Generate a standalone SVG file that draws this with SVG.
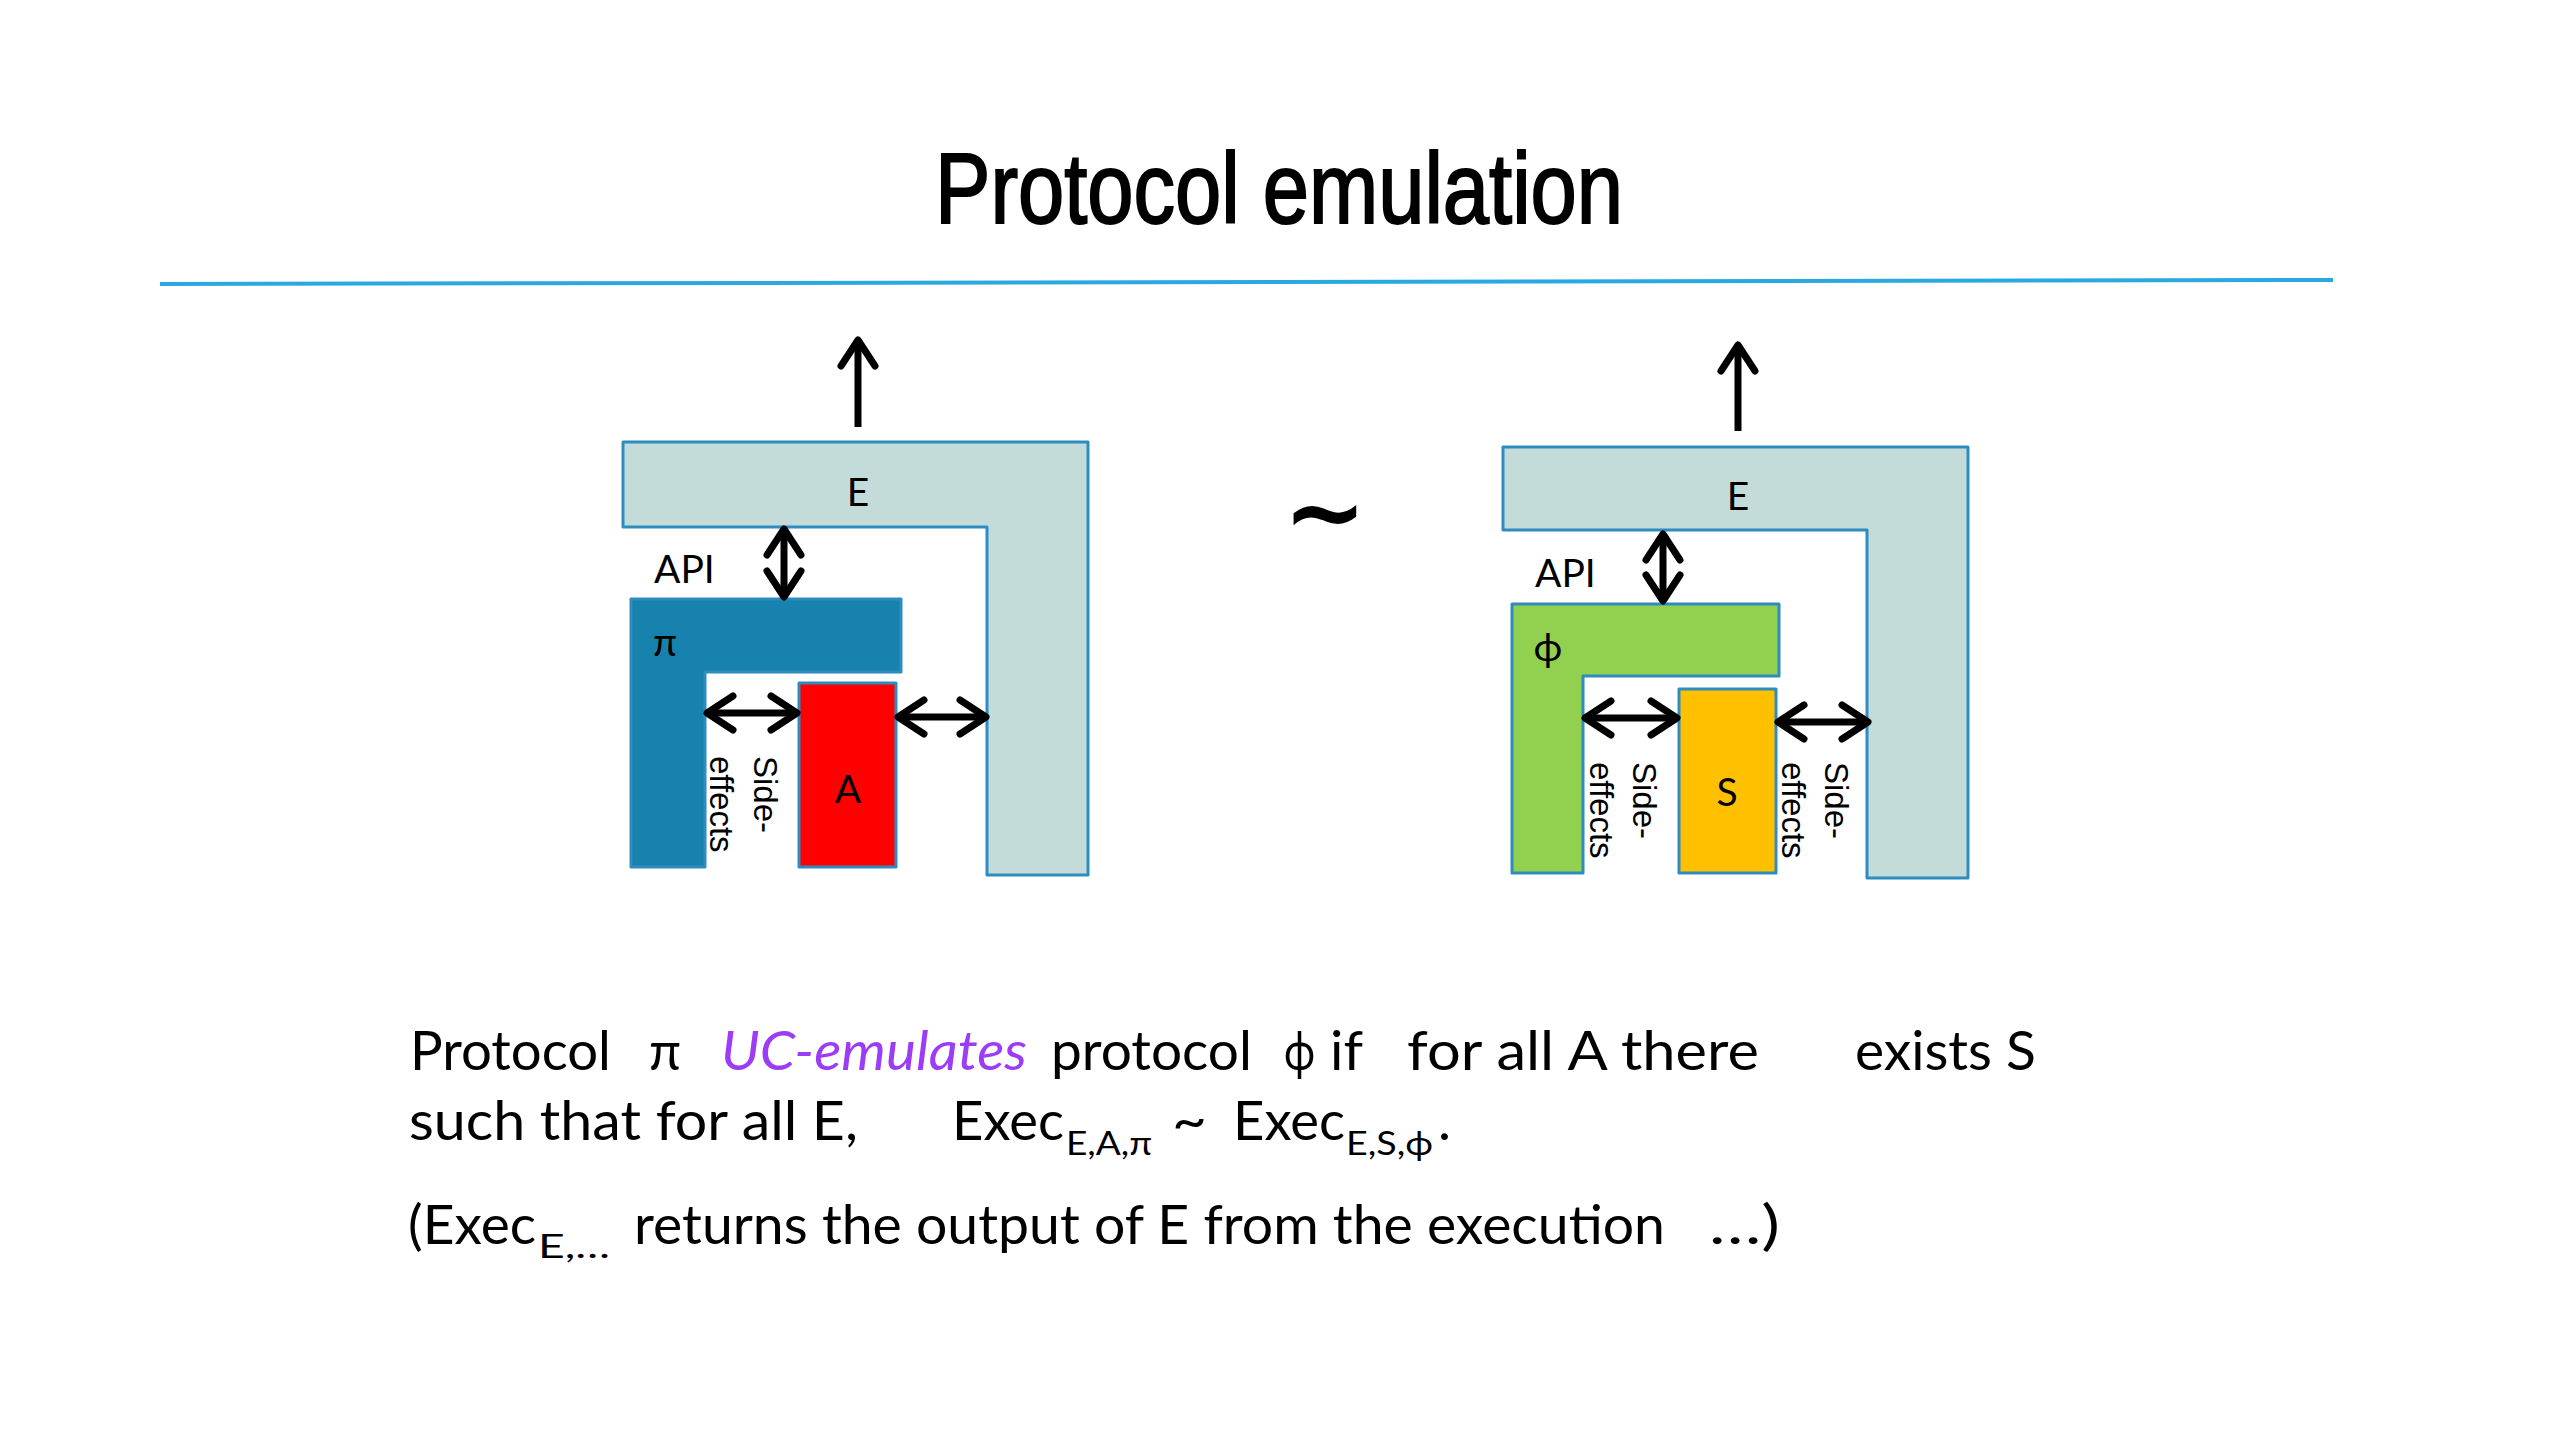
<svg xmlns="http://www.w3.org/2000/svg" width="2560" height="1440" viewBox="0 0 2560 1440">
<defs>
<style>
.title{font-family:"Liberation Sans Narrow","Liberation Sans",sans-serif;font-size:100px;fill:#000;stroke:#000;stroke-width:2}
.body{font-family:Lato,"DejaVu Sans",sans-serif;font-size:55px;fill:#000}
.sub{font-family:Lato,"DejaVu Sans",sans-serif;font-size:32px;fill:#000}
.lbl{font-family:Lato,"DejaVu Sans",sans-serif;font-size:39px;fill:#000}
.side{font-family:"Liberation Sans",Arial,sans-serif;font-size:33px;fill:#000}
.env{fill:#c3dcda;stroke:#2e8cc0;stroke-width:3;stroke-linejoin:round}
.box{stroke:#2e8cc0;stroke-width:3;stroke-linejoin:round}
.conn{fill:none;stroke:#000;stroke-width:7}
</style>
<marker id="ah" viewBox="0 0 40 40" refX="36" refY="20" markerWidth="40" markerHeight="40" markerUnits="userSpaceOnUse" orient="auto-start-reverse" overflow="visible">
<path d="M10,3 L36,20 L10,37" fill="none" stroke="#000" stroke-width="7" stroke-linecap="round" stroke-linejoin="round"/>
</marker>
</defs>
<rect x="0" y="0" width="2560" height="1440" fill="#fff"/>

<text id="title" class="title" x="935" y="223" textLength="688" lengthAdjust="spacingAndGlyphs">Protocol emulation</text>
<line x1="160" y1="284" x2="2333" y2="280" stroke="#2aa8e0" stroke-width="4"/>

<!-- Left diagram -->
<g id="E-left">
<polygon class="env" points="623,442 1088,442 1088,875 987,875 987,527 623,527"/>
<text class="lbl" x="858" y="506" text-anchor="middle">E</text>
</g>
<g id="pi">
<polygon class="box" fill="#1782ad" points="631,599 901,599 901,672 705,672 705,867 631,867"/>
<text class="lbl" x="665" y="656" text-anchor="middle" font-size="44">π</text>
</g>
<g id="A">
<rect class="box" x="799" y="683" width="97" height="184" fill="#ff0000"/>
<text class="lbl" x="848" y="803" text-anchor="middle">A</text>
</g>
<text id="api-left" class="lbl" x="654" y="583">API</text>
<g id="side-left-1">
<text class="side" transform="translate(754,756) rotate(90)">Side-</text>
<text class="side" transform="translate(710,756) rotate(90)">effects</text>
</g>

<!-- tilde -->
<text id="tilde" x="1325" y="546" text-anchor="middle" font-family="DejaVu Sans,sans-serif" font-weight="bold" font-size="100">~</text>

<!-- Right diagram -->
<g id="E-right">
<polygon class="env" points="1503,447 1968,447 1968,878 1867,878 1867,530 1503,530"/>
<text class="lbl" x="1738" y="510" text-anchor="middle">E</text>
</g>
<g id="phi">
<polygon class="box" fill="#92d050" points="1512,604 1779,604 1779,676 1583,676 1583,873 1512,873"/>
<text class="lbl" x="1548" y="661" text-anchor="middle" font-size="46">ϕ</text>
</g>
<g id="S">
<rect class="box" x="1679" y="689" width="97" height="184" fill="#ffc000"/>
<text class="lbl" x="1727" y="806" text-anchor="middle">S</text>
</g>
<text id="api-right" class="lbl" x="1535" y="587">API</text>
<g id="side-right-1">
<text class="side" transform="translate(1633,762) rotate(90)">Side-</text>
<text class="side" transform="translate(1590,762) rotate(90)">effects</text>
</g>
<g id="side-right-2">
<text class="side" transform="translate(1825,762) rotate(90)">Side-</text>
<text class="side" transform="translate(1782,762) rotate(90)">effects</text>
</g>

<!-- connectors -->
<g id="connectors">
<line class="conn" x1="858" y1="427" x2="858" y2="340" marker-end="url(#ah)"/>
<line class="conn" x1="784" y1="529" x2="784" y2="597" marker-start="url(#ah)" marker-end="url(#ah)"/>
<line class="conn" x1="707" y1="713" x2="797" y2="713" marker-start="url(#ah)" marker-end="url(#ah)"/>
<line class="conn" x1="898" y1="717" x2="986" y2="717" marker-start="url(#ah)" marker-end="url(#ah)"/>
<line class="conn" x1="1738" y1="431" x2="1738" y2="345" marker-end="url(#ah)"/>
<line class="conn" x1="1663" y1="534" x2="1663" y2="601" marker-start="url(#ah)" marker-end="url(#ah)"/>
<line class="conn" x1="1585" y1="718" x2="1677" y2="718" marker-start="url(#ah)" marker-end="url(#ah)"/>
<line class="conn" x1="1778" y1="722" x2="1868" y2="722" marker-start="url(#ah)" marker-end="url(#ah)"/>
</g>

<!-- bottom text -->
<g id="statement">
<text class="body" x="410" y="1070" textLength="201" lengthAdjust="spacingAndGlyphs">Protocol</text>
<text class="body" x="649" y="1070" textLength="32" lengthAdjust="spacingAndGlyphs">π</text>
<text class="body" x="721" y="1070" textLength="306" lengthAdjust="spacingAndGlyphs" font-style="italic" style="fill:#9c3cf6">UC-emulates</text>
<text class="body" x="1051" y="1070" textLength="201" lengthAdjust="spacingAndGlyphs">protocol</text>
<text class="body" x="1284" y="1070" textLength="31" lengthAdjust="spacingAndGlyphs">ϕ</text>
<text class="body" x="1330" y="1070" textLength="33" lengthAdjust="spacingAndGlyphs">if</text>
<text class="body" x="1407" y="1070" textLength="352" lengthAdjust="spacingAndGlyphs">for all A there</text>
<text class="body" x="1855" y="1070" textLength="181" lengthAdjust="spacingAndGlyphs">exists S</text>

<text class="body" x="409" y="1140" textLength="449" lengthAdjust="spacingAndGlyphs">such that for all E,</text>
<text class="body" x="952" y="1140" textLength="112" lengthAdjust="spacingAndGlyphs">Exec</text>
<text class="sub" x="1066" y="1155" textLength="86" lengthAdjust="spacingAndGlyphs">E,A,π</text>
<text class="body" x="1172" y="1140" textLength="35" lengthAdjust="spacingAndGlyphs">~</text>
<text class="body" x="1233" y="1140" textLength="112" lengthAdjust="spacingAndGlyphs">Exec</text>
<text class="sub" x="1346" y="1155" textLength="87" lengthAdjust="spacingAndGlyphs">E,S,ϕ</text>
<text class="body" x="1438" y="1140">.</text>

<text class="body" x="408" y="1244" textLength="128" lengthAdjust="spacingAndGlyphs">(Exec</text>
<text class="sub" x="538" y="1258" textLength="72" lengthAdjust="spacingAndGlyphs">E,…</text>
<text class="body" x="634" y="1244" textLength="1031" lengthAdjust="spacingAndGlyphs">returns the output of E from the execution</text>
<text class="body" x="1709" y="1244" textLength="71" lengthAdjust="spacingAndGlyphs">…)</text>
</g>
</svg>
